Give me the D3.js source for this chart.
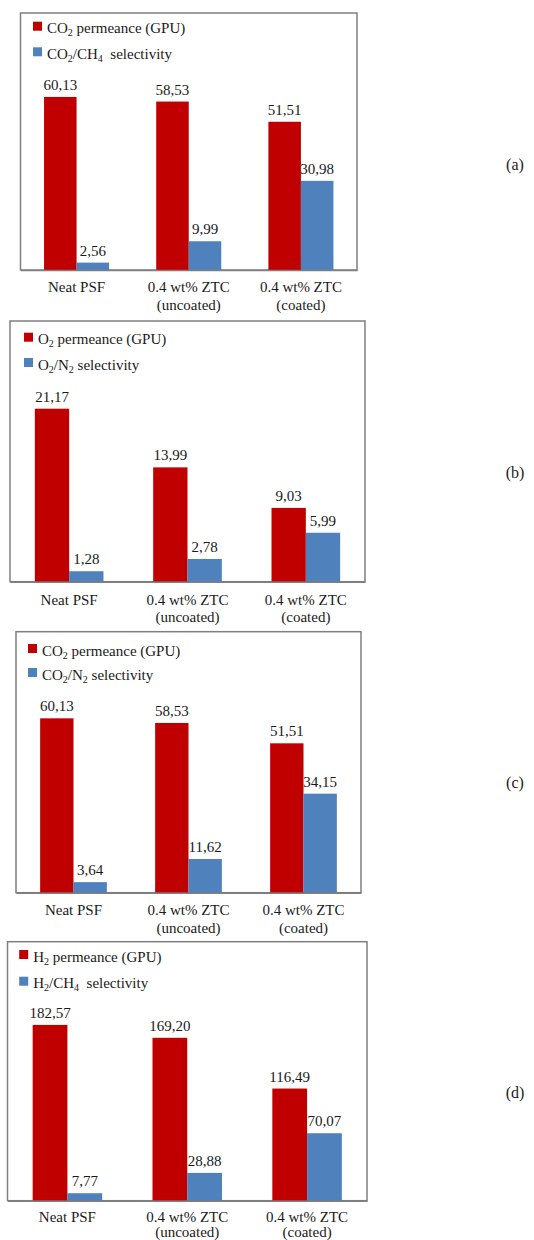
<!DOCTYPE html>
<html>
<head>
<meta charset="utf-8">
<script src="https://cdn.jsdelivr.net/npm/d3@7/dist/d3.min.js"></script>
<style>
  html, body { margin: 0; padding: 0; background: #fff; }
  svg { display: block; }
</style>
</head>
<body>
<svg id="chart" width="534" height="1240" font-family="'Liberation Serif', Tinos, 'Times New Roman', serif"></svg>
<script>
// ---------- data ----------
const categories = [["Neat PSF"], ["0.4 wt% ZTC", "(uncoated)"], ["0.4 wt% ZTC", "(coated)"]];
const seriesKeys = ["permeance", "selectivity"];
const panelTags = ["(a)", "(b)", "(c)", "(d)"];

const legendA = ["CO{2} permeance (GPU)", "CO{2}/CH{4}  selectivity"];
const legendB = ["O{2} permeance (GPU)", "O{2}/N{2} selectivity"];
const legendC = ["CO{2} permeance (GPU)", "CO{2}/N{2} selectivity"];
const legendD = ["H{2} permeance (GPU)", "H{2}/CH{4}  selectivity"];

const permA = [60.13, 58.53, 51.51];
const selA  = [2.56, 9.99, 30.98];
const permB = [21.17, 13.99, 9.03];
const selB  = [1.28, 2.78, 5.99];
const permC = [60.13, 58.53, 51.51];
const selC  = [3.64, 11.62, 34.15];
const permD = [182.57, 169.20, 116.49];
const selD  = [7.77, 28.88, 70.07];

// hidden value-axis maxima
const axisMax = [89.3, 31.9, 90, 269];

// ---------- layout ----------
const layout = [
  { left: 20.5, right: 357, top: 13,    bottom: 270,    legX: 12.5, legY: [8.7, 34.3],  catDy: [22, 40], tagY: 170 },
  { left: 10,   right: 365, top: 321,   bottom: 581.7,  legX: 14,   legY: [11.7, 37],   catDy: [23, 40], tagY: 478 },
  { left: 16,   right: 361, top: 631.7, bottom: 892.7,  legX: 12,   legY: [12.3, 36.3], catDy: [22, 40], tagY: 788 },
  { left: 7.5,  right: 367, top: 941.7, bottom: 1200.7, legX: 11.7, legY: [8.3, 35],    catDy: [21, 36], tagY: 1098 }
];

const colors = { permeance: "#C00000", selectivity: "#4F81BD" };
const fmtLocale = d3.formatLocale({ decimal: ",", thousands: ".", grouping: [3], currency: ["", ""] });
const fmt = fmtLocale.format(".2f");

const panels = [
  { legend: legendA, perm: permA, sel: selA },
  { legend: legendB, perm: permB, sel: selB },
  { legend: legendC, perm: permC, sel: selC },
  { legend: legendD, perm: permD, sel: selD }
];

const svg = d3.select("#chart");
const FONT = "'Liberation Serif', Tinos, 'Times New Roman', serif";
const TXT = "#1a1a1a";

function addRichText(sel, str) {
  const parts = str.split(/(\{[^}]*\})/).filter(s => s.length);
  let shifted = false;
  parts.forEach(p => {
    if (p.startsWith("{")) {
      sel.append("tspan").attr("dy", 3).attr("font-size", 10).text(p.slice(1, -1));
      shifted = true;
    } else {
      const t = sel.append("tspan").text(p);
      if (shifted) { t.attr("dy", -3); shifted = false; }
    }
  });
}

panels.forEach((p, i) => {
  const L = layout[i];
  const g = svg.append("g");
  const catNames = categories.map(c => c.join(" "));

  const x0 = d3.scaleBand().domain(catNames).range([L.left, L.right]).paddingInner(0).paddingOuter(0);
  const bw = x0.bandwidth();
  const barW = bw * 0.29;
  const x1 = d3.scaleBand().domain(seriesKeys).range([bw / 2 - barW, bw / 2 + barW]).padding(0);
  const y = d3.scaleLinear().domain([0, axisMax[i]]).range([L.bottom, L.top]);

  g.append("rect")
    .attr("x", L.left).attr("y", L.top)
    .attr("width", L.right - L.left).attr("height", L.bottom - L.top)
    .attr("fill", "#fff").attr("stroke", "#7f7f7f").attr("stroke-width", 1.5);

  const rows = catNames.map((c, k) => ({ cat: c, values: [
    { key: "permeance", v: p.perm[k] },
    { key: "selectivity", v: p.sel[k] }
  ]}));

  const grp = g.selectAll("g.cat").data(rows).join("g")
    .attr("class", "cat")
    .attr("transform", d => `translate(${x0(d.cat)},0)`);

  grp.selectAll("rect").data(d => d.values).join("rect")
    .attr("x", d => x1(d.key))
    .attr("y", d => y(d.v))
    .attr("width", x1.bandwidth())
    .attr("height", d => y(0) - y(d.v))
    .attr("fill", d => colors[d.key]);

  grp.selectAll("text.val").data(d => d.values).join("text")
    .attr("class", "val")
    .attr("font-family", FONT)
    .attr("fill", TXT)
    .attr("x", d => x1(d.key) + x1.bandwidth() / 2)
    .attr("y", d => y(d.v) - 7)
    .attr("text-anchor", "middle")
    .attr("font-size", 15)
    .text(d => fmt(d.v));

  const xAxis = d3.axisBottom(x0).tickSize(0).tickFormat("");
  const ax = g.append("g").attr("transform", `translate(0,${L.bottom})`).call(xAxis);
  ax.select(".domain").attr("stroke", "#7f7f7f").attr("stroke-width", 1.5);

  rows.forEach((r, k) => {
    const lines = categories[k];
    const cx = x0(r.cat) + bw / 2;
    lines.forEach((ln, j) => {
      g.append("text")
        .attr("font-family", FONT)
        .attr("fill", TXT)
        .attr("x", cx)
        .attr("y", L.bottom + L.catDy[j])
        .attr("text-anchor", "middle")
        .attr("font-size", 15)
        .text(ln);
    });
  });

  seriesKeys.forEach((key, j) => {
    const sx = L.left + L.legX;
    const sy = L.top + L.legY[j];
    g.append("rect").attr("x", sx).attr("y", sy).attr("width", 9).attr("height", 9)
      .attr("fill", colors[key]);
    const t = g.append("text")
      .attr("font-family", FONT)
      .attr("fill", TXT)
      .attr("x", sx + 14).attr("y", sy + 11.5)
      .attr("font-size", 15)
      .attr("xml:space", "preserve")
      .style("white-space", "pre");
    addRichText(t, p.legend[j]);
  });

  svg.append("text").attr("x", 515).attr("y", L.tagY)
    .attr("font-family", FONT)
    .attr("fill", TXT)
    .attr("text-anchor", "middle").attr("font-size", 16).text(panelTags[i]);
});
</script>
</body>
</html>
